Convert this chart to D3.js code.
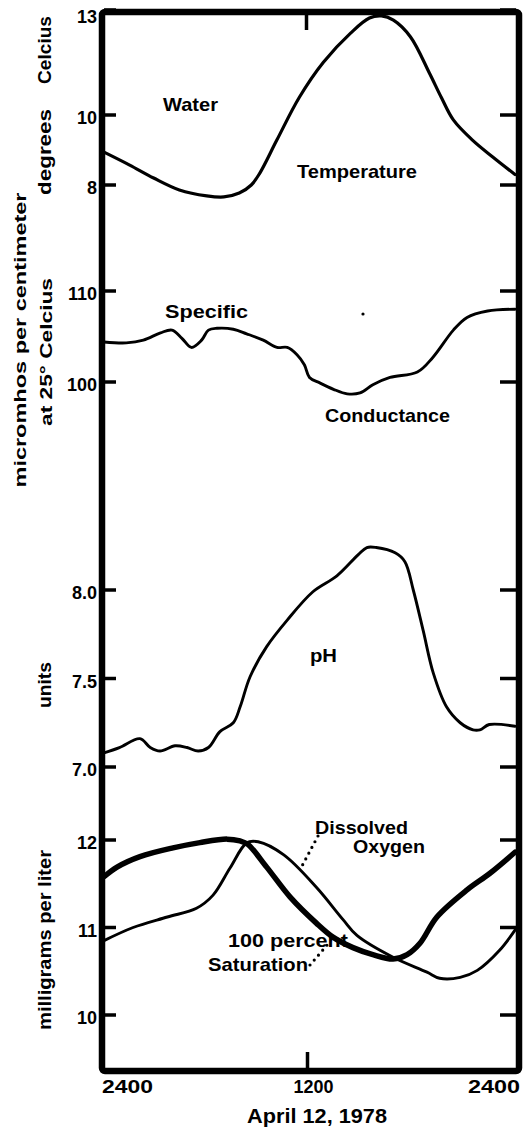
<!DOCTYPE html>
<html><head><meta charset="utf-8">
<script src="https://cdn.jsdelivr.net/npm/d3@7"></script>
<style>
html,body{margin:0;padding:0;background:#fff;}
svg{display:block;}
text{font-family:"Liberation Sans",Arial,sans-serif;font-weight:bold;fill:#000;}
</style>
</head><body>
<svg id="c" width="531" height="1134"></svg>
<script>
// ---- Data (hours after midnight April 11/12, 1978) ----
const tempHours  = [0, 1.5, 2.9, 4.4, 6.0, 7.0, 7.9, 8.6, 9.1, 10.1, 11.4, 12.8, 14.4, 15.5, 16.2, 16.9, 17.9, 19.0, 19.7, 20.4, 21.5, 22.7, 24];
const tempValues = [8.94, 8.57, 8.2, 7.86, 7.69, 7.66, 7.77, 8.0, 8.34, 9.29, 10.5, 11.5, 12.34, 12.77, 12.83, 12.71, 12.23, 11.2, 10.5, 9.86, 9.29, 8.8, 8.3];

const condHours  = [0, 1.3, 2.3, 3.3, 3.97, 4.55, 5.1, 5.7, 6.1, 6.6, 7.55, 8.33, 9.3, 10.1, 10.7, 11.27, 11.7, 12.0, 12.6, 13.4, 14.2, 14.95, 15.7, 16.7, 18.3, 19.2, 20.4, 21.2, 22.4, 24];
const condValues = [104.4, 104.3, 104.6, 105.4, 105.7, 104.8, 103.8, 104.6, 105.7, 105.9, 105.8, 105.3, 104.6, 103.8, 103.8, 103.0, 101.9, 100.5, 99.9, 99.2, 98.7, 98.8, 99.7, 100.5, 101.1, 102.7, 105.7, 107.1, 107.8, 108.0];

const phHours  = [0, 0.9, 2.1, 2.7, 3.27, 4.15, 4.85, 5.5, 6.1, 6.77, 7.55, 7.95, 8.53, 9.5, 10.7, 12.2, 13.6, 14.85, 15.35, 15.9, 17.0, 17.57, 18.06, 18.64, 19.23, 20.0, 20.8, 21.55, 21.95, 22.5, 24];
const phValues = [7.08, 7.11, 7.16, 7.11, 7.09, 7.12, 7.11, 7.09, 7.11, 7.20, 7.25, 7.34, 7.51, 7.68, 7.83, 7.99, 8.08, 8.20, 8.24, 8.24, 8.21, 8.16, 8.0, 7.77, 7.53, 7.34, 7.25, 7.21, 7.21, 7.24, 7.23];

const satHours  = [0, 0.76, 2.1, 4.03, 5.6, 7.18, 7.94, 8.4, 9.5, 10.86, 12.4, 13.37, 14.54, 15.7, 16.88, 17.7, 18.45, 19.44, 21.2, 22.54, 24];
const satValues = [11.58, 11.69, 11.81, 11.91, 11.97, 12.01, 11.99, 11.95, 11.69, 11.35, 11.05, 10.89, 10.77, 10.69, 10.64, 10.69, 10.82, 11.12, 11.43, 11.62, 11.86];

const doHours  = [0, 1.7, 3.7, 5.4, 6.37, 7.36, 8.35, 9.0, 10.5, 12.4, 13.96, 14.77, 16.88, 18.86, 19.6, 20.8, 21.8, 23.1, 24];
const doValues = [10.85, 11.0, 11.12, 11.22, 11.37, 11.68, 11.97, 11.98, 11.83, 11.46, 11.09, 10.91, 10.66, 10.49, 10.42, 10.43, 10.51, 10.74, 10.97];

const xTickHours  = [0, 12, 24];
const xTickLabels = ["2400", "1200", "2400"];
const tempTicks = [13, 10, 8];
const condTicks = [110, 100];
const phTicks   = [8.0, 7.5, 7.0];
const phTickLabels = ["8.0", "7.5", "7.0"];
const doTicks   = [12, 11, 10];

// ---- Drawing ----
const svg = d3.select("#c");
svg.append("rect").attr("width", 531).attr("height", 1134).attr("fill", "#fff");

const x = d3.scaleLinear().domain([0, 24]).range([104, 515]);
const yTemp = d3.scaleLinear().domain([8, 10]).range([185, 115]);
const yCond = d3.scaleLinear().domain([100, 110]).range([382, 291]);
const yPH   = d3.scaleLinear().domain([7, 8]).range([767, 590]);
const yDO   = d3.scaleLinear().domain([10, 12]).range([1015, 840]);

function drawLine(hours, vals, y, w) {
  const pts = hours.map((h, i) => [x(h), y(vals[i])]);
  svg.append("path")
    .attr("d", d3.line().curve(d3.curveCatmullRom.alpha(0.5))(pts))
    .attr("fill", "none").attr("stroke", "#000").attr("stroke-width", w)
    .attr("stroke-linejoin", "round").attr("stroke-linecap", "round");
}

drawLine(tempHours, tempValues, yTemp, 3.2);
drawLine(condHours, condValues, yCond, 2.9);
drawLine(phHours, phValues, yPH, 2.9);
drawLine(doHours, doValues, yDO, 2.9);
drawLine(satHours, satValues, yDO, 5.5);

// y ticks
function yTicks(vals, y, labels) {
  vals.forEach((v, i) => {
    const yy = y(v);
    svg.append("line").attr("x1", 104).attr("x2", 116).attr("y1", yy).attr("y2", yy)
      .attr("stroke", "#000").attr("stroke-width", 3.5);
    svg.append("line").attr("x1", 500).attr("x2", 516).attr("y1", yy).attr("y2", yy)
      .attr("stroke", "#000").attr("stroke-width", 3.5);
    svg.append("text").attr("x", 97).attr("y", Math.max(yy + 9, 23))
      .attr("text-anchor", "end").attr("font-size", 18)
      .text(labels ? labels[i] : String(v));
  });
}
yTicks(tempTicks, yTemp);
yTicks(condTicks, yCond);
yTicks(phTicks, yPH, phTickLabels);
yTicks(doTicks, yDO);

// frame
svg.append("rect").attr("x", 102).attr("y", 12).attr("width", 417).attr("height", 1059)
  .attr("rx", 3).attr("fill", "none").attr("stroke", "#000").attr("stroke-width", 6.5)
  .attr("stroke-linejoin", "round");

// x ticks at noon (top and bottom)
svg.append("line").attr("x1", x(12) - 3).attr("x2", x(12) - 3).attr("y1", 14).attr("y2", 30)
  .attr("stroke", "#000").attr("stroke-width", 3.5);
svg.append("line").attr("x1", x(12) - 2).attr("x2", x(12) - 2).attr("y1", 1052).attr("y2", 1070)
  .attr("stroke", "#000").attr("stroke-width", 3.5);

// x tick labels
const xAnchors = ["start", "middle", "end"];
const xOffsets = [-2, 4, 5];
const xLens = [51, 40, 52];
xTickHours.forEach((h, i) => {
  svg.append("text").attr("x", x(h) + xOffsets[i]).attr("y", 1093)
    .attr("text-anchor", xAnchors[i]).attr("font-size", 18)
    .attr("textLength", xLens[i]).attr("lengthAdjust", "spacingAndGlyphs")
    .text(xTickLabels[i]);
});
svg.append("text").attr("x", 317).attr("y", 1123).attr("text-anchor", "middle")
  .attr("font-size", 20).attr("textLength", 140).attr("lengthAdjust", "spacingAndGlyphs")
  .text("April 12, 1978");

// rotated axis titles
function vText(t, xb, yc, len, fs) {
  svg.append("text").attr("transform", `translate(${xb},${yc}) rotate(-90)`)
    .attr("text-anchor", "middle").attr("font-size", fs)
    .attr("textLength", len).attr("lengthAdjust", "spacingAndGlyphs").text(t);
}
vText("Celcius", 51, 50, 68, 18);
vText("degrees", 51, 152, 86, 18);
vText("micromhos per centimeter", 26, 340, 295, 16);
vText("at 25\u00B0 Celcius", 52, 352, 148, 16);
vText("units", 51, 685, 46, 18);
vText("milligrams per liter", 51, 940, 180, 18);

// in-plot labels
function label(t, x0, yb, len, fs) {
  svg.append("text").attr("x", x0).attr("y", yb).attr("font-size", fs || 19)
    .attr("textLength", len).attr("lengthAdjust", "spacingAndGlyphs").text(t);
}
label("Water", 163, 111, 55);
label("Temperature", 297, 178, 120);
label("Specific", 165, 318, 83);
label("Conductance", 325, 422, 125);
label("pH", 310, 662, 27);
label("Dissolved", 315, 834, 93);
label("Oxygen", 353, 853, 72);
label("100 percent", 228, 947, 120);
label("Saturation", 208, 971, 100);

// stray dot
svg.append("circle").attr("cx", 363).attr("cy", 314).attr("r", 1.6).attr("fill", "#000");

// dotted leaders
function dots(x1, y1, x2, y2) {
  svg.append("line").attr("x1", x1).attr("y1", y1).attr("x2", x2).attr("y2", y2)
    .attr("stroke", "#000").attr("stroke-width", 3.2).attr("stroke-linecap", "round")
    .attr("stroke-dasharray", "0 6.5");
}
dots(318, 836, 302, 866);
dots(310, 965, 328, 944);
</script>
</body></html>
